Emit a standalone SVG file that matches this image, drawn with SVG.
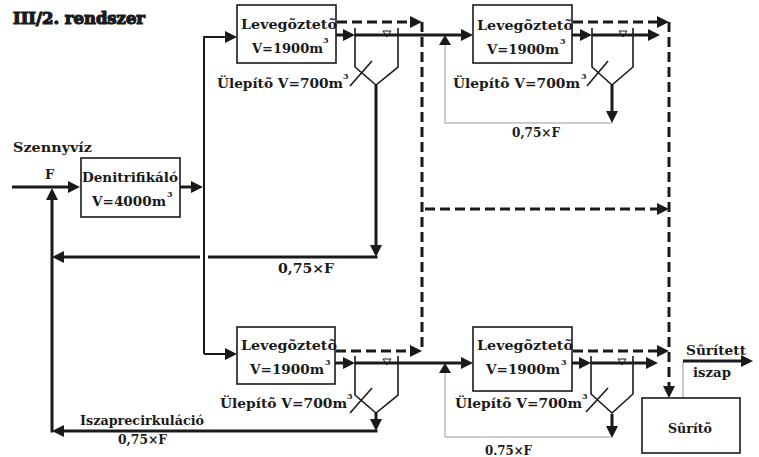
<svg xmlns="http://www.w3.org/2000/svg" width="759" height="457" viewBox="0 0 759 457">
<style>
.t{font-family:"DejaVu Serif","Liberation Serif",serif;font-weight:bold;font-size:13px;fill:#1a1a1a}
.sup{font-size:8px}
.box{fill:#fff;stroke:#1a1a1a;stroke-width:1.6}
.th{fill:none;stroke:#1a1a1a;stroke-width:3}
.md{fill:none;stroke:#1a1a1a;stroke-width:2}
.ds{fill:none;stroke:#1a1a1a;stroke-width:3;stroke-dasharray:10 5}
.gr{fill:none;stroke:#9a9a9a;stroke-width:1}
.st{fill:none;stroke:#1a1a1a;stroke-width:1.6}
.lv{fill:none;stroke:#1a1a1a;stroke-width:1}
</style>
<defs>
<marker id="ah" markerUnits="userSpaceOnUse" markerWidth="12" markerHeight="12" refX="8" refY="6" orient="auto" overflow="visible">
<path d="M0,0 L12,6 L0,12 z" fill="#1a1a1a"/>
</marker>
<marker id="tri" markerUnits="userSpaceOnUse" markerWidth="12" markerHeight="12" refX="0" refY="6" orient="auto" overflow="visible">
<path d="M0,0 L10,6 L0,12 z" fill="#1a1a1a"/>
</marker>
</defs>

<text class="t" x="13" y="24" stroke="#1a1a1a" stroke-width="1.2" textLength="132" lengthAdjust="spacingAndGlyphs" style="font-size:16px">III/2. rendszer</text>
<text class="t" x="13" y="152" textLength="79" lengthAdjust="spacingAndGlyphs">Szennyvíz</text>
<text class="t" x="45" y="179">F</text>

<g id="connectors">
<path class="th" d="M12,187 H76" marker-end="url(#ah)"/>
<path class="th" d="M180,187 H199" marker-end="url(#ah)"/>
<path class="md" d="M204,354 V37 H233" marker-end="url(#ah)"/>
<path class="md" d="M204,354 H233" marker-end="url(#ah)"/>
<path class="th" d="M336,35 H351" marker-end="url(#ah)"/>
<path class="th" d="M355,35 H469" marker-end="url(#ah)"/>
<path class="th" d="M572,35 H588" marker-end="url(#ah)"/>
<path class="th" d="M592,35 H656" marker-end="url(#ah)"/>
<path class="th" d="M335,363 H351" marker-end="url(#ah)"/>
<path class="th" d="M355,363 H469" marker-end="url(#ah)"/>
<path class="th" d="M572,363 H587" marker-end="url(#ah)"/>
<path class="th" d="M591,363 H654" marker-end="url(#ah)"/>
<path class="ds" d="M337,22 H418" marker-end="url(#ah)"/>
<path class="ds" d="M422,22 V351"/>
<path class="ds" d="M336,351 H418" marker-end="url(#ah)"/>
<path class="ds" d="M425,209 H665" marker-end="url(#ah)"/>
<path class="ds" d="M573,22 H665" marker-end="url(#ah)"/>
<path class="ds" d="M669,22 V394" marker-end="url(#ah)"/>
<path class="ds" d="M573,351 H665" marker-end="url(#ah)"/>
<path class="th" d="M376,85 V253" marker-end="url(#ah)"/>
<path class="th" d="M377.5,257 H208"/>
<path class="th" d="M200,257 H56" marker-end="url(#ah)"/>
<path class="th" d="M52,432.5 V192" marker-end="url(#ah)"/>
<path class="th" d="M376,413 V427" marker-end="url(#ah)"/>
<path class="th" d="M377.5,431 H56" marker-end="url(#ah)"/>
<path class="th" d="M612,85 V119" marker-end="url(#ah)"/>
<path class="gr" d="M612,123 H445 V45" marker-end="url(#tri)"/>
<path class="th" d="M612,414 V434" marker-end="url(#ah)"/>
<path class="gr" d="M612,437 H445 V373" marker-end="url(#tri)"/>
<path class="gr" d="M683,398 V361"/>
<path class="th" d="M683,361 H749" marker-end="url(#ah)"/>
</g>

<g id="denitrifikalo">
<rect class="box" x="81" y="158" width="99" height="59"/>
<text class="t" x="82" y="182" textLength="96" lengthAdjust="spacingAndGlyphs">Denitrifikáló</text>
<text class="t" x="92" y="206" textLength="74" lengthAdjust="spacingAndGlyphs">V=4000m</text>
<text class="t sup" x="167" y="197">3</text>
</g>

<g id="levegozteto1">
<rect class="box" x="237" y="5" width="99" height="58"/>
<text class="t" x="241" y="29" textLength="96" lengthAdjust="spacingAndGlyphs">Levegõztetõ</text>
<text class="t" x="252" y="53" textLength="71" lengthAdjust="spacingAndGlyphs">V=1900m</text>
<text class="t sup" x="323" y="43">3</text>
</g>
<g id="ulepito1">
<path class="st" d="M355,28 V67 L376,85 L398,67 V28"/>
<path class="st" d="M372,61 L350,86"/>
<path class="lv" d="M383,31 H391 L387,37 z"/>
<text class="t" x="217" y="88" textLength="126" lengthAdjust="spacingAndGlyphs">Ülepítõ V=700m</text>
<text class="t sup" x="343" y="79">3</text>
</g>

<g id="levegozteto2">
<rect class="box" x="473" y="5" width="99" height="58"/>
<text class="t" x="477" y="30" textLength="96" lengthAdjust="spacingAndGlyphs">Levegõztetõ</text>
<text class="t" x="487" y="54" textLength="72" lengthAdjust="spacingAndGlyphs">V=1900m</text>
<text class="t sup" x="560" y="44">3</text>
</g>
<g id="ulepito2">
<path class="st" d="M592,28 V67 L612,85 L633,67 V28"/>
<path class="st" d="M608,61 L587,86"/>
<path class="lv" d="M619,31 H627 L623,37 z"/>
<text class="t" x="453" y="88" textLength="127" lengthAdjust="spacingAndGlyphs">Ülepítõ V=700m</text>
<text class="t sup" x="581" y="79">3</text>
<text class="t" x="512" y="137" textLength="48" lengthAdjust="spacingAndGlyphs">0,75×F</text>
</g>

<text class="t" x="278" y="273" textLength="56" lengthAdjust="spacingAndGlyphs">0,75×F</text>

<g id="levegozteto3">
<rect class="box" x="237" y="327" width="98" height="57"/>
<text class="t" x="241" y="350" textLength="96" lengthAdjust="spacingAndGlyphs">Levegõztetõ</text>
<text class="t" x="250" y="374" textLength="74" lengthAdjust="spacingAndGlyphs">V=1900m</text>
<text class="t sup" x="325" y="365">3</text>
</g>
<g id="ulepito3">
<path class="st" d="M355,356 V395 L376,413 L398,395 V356"/>
<path class="st" d="M372,388 L350,413"/>
<path class="lv" d="M383,359 H391 L387,365 z"/>
<text class="t" x="220" y="408" textLength="127" lengthAdjust="spacingAndGlyphs">Ülepítõ V=700m</text>
<text class="t sup" x="347" y="399">3</text>
</g>
<text class="t" x="80" y="425" textLength="124" lengthAdjust="spacingAndGlyphs">Iszaprecirkuláció</text>
<text class="t" x="118" y="444" textLength="49" lengthAdjust="spacingAndGlyphs">0,75×F</text>

<g id="levegozteto4">
<rect class="box" x="473" y="327" width="99" height="64"/>
<text class="t" x="477" y="350" textLength="96" lengthAdjust="spacingAndGlyphs">Levegõztetõ</text>
<text class="t" x="486" y="374" textLength="74" lengthAdjust="spacingAndGlyphs">V=1900m</text>
<text class="t sup" x="561" y="365">3</text>
</g>
<g id="ulepito4">
<path class="st" d="M591,356 V394 L612,413 L633,394 V356"/>
<path class="st" d="M608,388 L586,412"/>
<path class="lv" d="M618,359 H626 L622,365 z"/>
<text class="t" x="455" y="408" textLength="127" lengthAdjust="spacingAndGlyphs">Ülepítõ V=700m</text>
<text class="t sup" x="582" y="399">3</text>
<text class="t" x="485" y="455" textLength="47" lengthAdjust="spacingAndGlyphs">0.75×F</text>
</g>

<g id="surito">
<rect class="box" x="642" y="398" width="98" height="55"/>
<text class="t" x="668" y="433" textLength="44" lengthAdjust="spacingAndGlyphs">Sûrítõ</text>
</g>
<text class="t" x="686" y="355" textLength="60" lengthAdjust="spacingAndGlyphs">Sûrített</text>
<text class="t" x="693" y="377" textLength="38" lengthAdjust="spacingAndGlyphs">iszap</text>
</svg>
